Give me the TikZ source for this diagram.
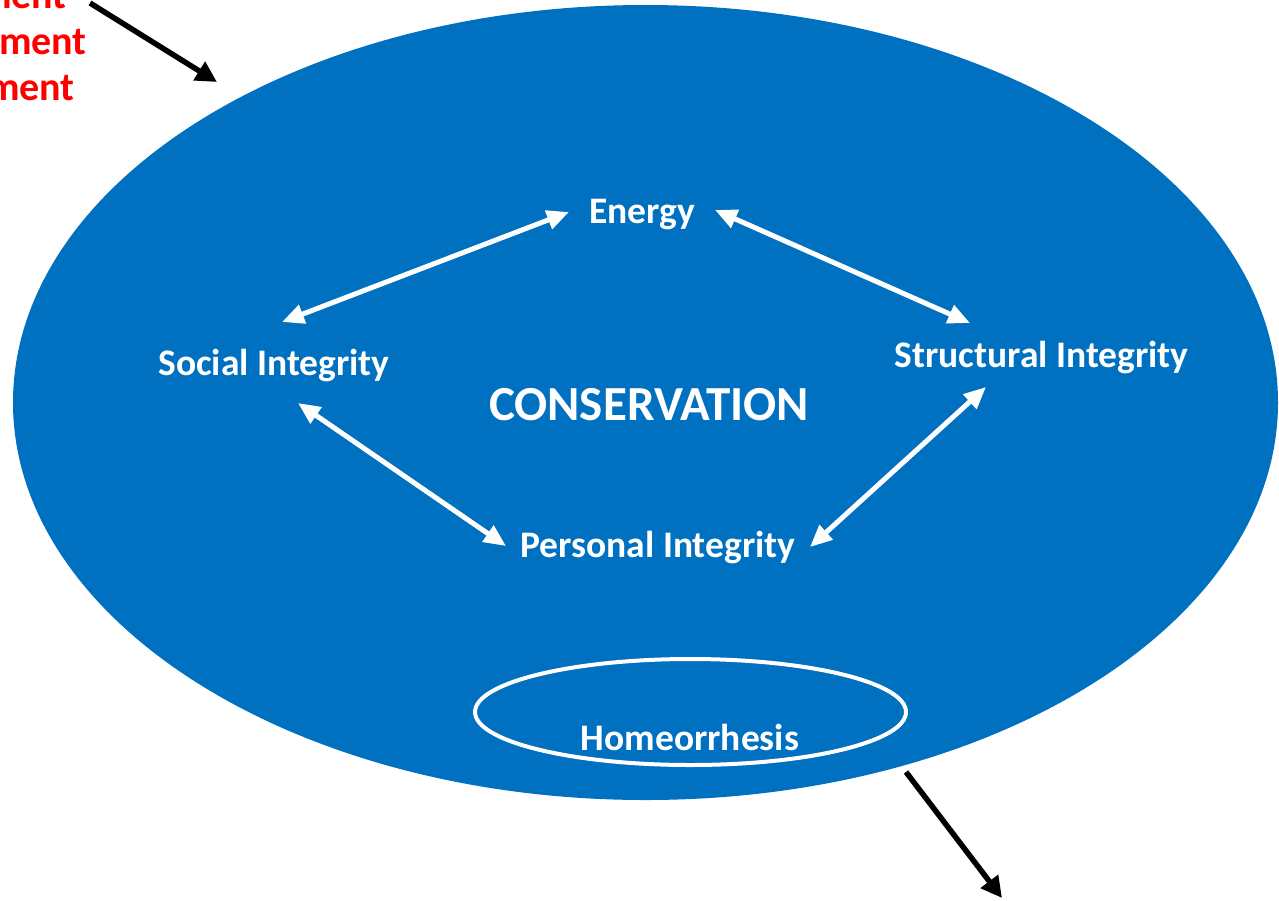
\documentclass[tikz,border=0pt]{standalone}
\usepackage{fontspec}
\setmainfont{Carlito}
\usetikzlibrary{arrows.meta}
\definecolor{consblue}{HTML}{0070C0}
\definecolor{envred}{HTML}{FF0000}

\begin{document}
\begin{tikzpicture}[x=1pt,y=-1pt,
  lbl/.style={text=white,font=\bfseries\fontsize{37.5}{45}\selectfont,inner sep=0pt,anchor=base},
  envtxt/.style={text=envred,font=\bfseries\fontsize{40}{46}\selectfont,inner sep=0pt,anchor=base east},
  dbl/.style={white,line width=5pt,{Triangle[length=22pt,width=19pt]}-{Triangle[length=22pt,width=19pt]}},
  blk/.style={black,line width=5.5pt,-{Triangle[length=21pt,width=21pt]}}]
\useasboundingbox (0,0) rectangle (1279,900);
%outer and inner ellipse
\fill[consblue] (645.5,402.5) ellipse [x radius=632.5pt, y radius=397.5pt];
\draw[white,line width=4pt] (690.5,712) ellipse [x radius=215.5pt, y radius=53pt];

\node [lbl] (ene) at(642,223){Energy};
\node [lbl] (soc) at(274,375){Social Integrity};
\node [lbl] (str) at(1041.5,367){Structural Integrity};
\node [lbl,font=\bfseries\fontsize{49}{58}\selectfont] (cons) at(649,420){CONSERVATION};
\node [lbl] (per) at(658,557){Personal Integrity};
\node [lbl] (hom) at(690,750){Homeorrhesis};

%red text, cut at the left edge
\node [envtxt] (env1) at(67,8){ment};
\node [envtxt] (env2) at(87,54){nment};
\node [envtxt] (env3) at(75,100){ment};

\draw[dbl]([shift={(8,-53)}]soc.base) -- ([shift={(-73,-11)}]ene.base);
\draw[dbl]([shift={(73,-13)}]ene.base) -- ([shift={(-71.5,-44)}]str.base);
\draw[dbl]([shift={(24,28)}]soc.base) -- ([shift={(-152,-11)}]per.base);
\draw[dbl]([shift={(-55.5,20)}]str.base) -- ([shift={(152,-10)}]per.base);

\coordinate (inhead) at(217,82);
\coordinate (outtail) at(906,772);
\coordinate (outhead) at(1002,898);
\draw[blk]([shift={(23,-5)}]env1.base east) -- (inhead);
\draw[blk](outtail) -- (outhead);
\end{tikzpicture}
\end{document}
